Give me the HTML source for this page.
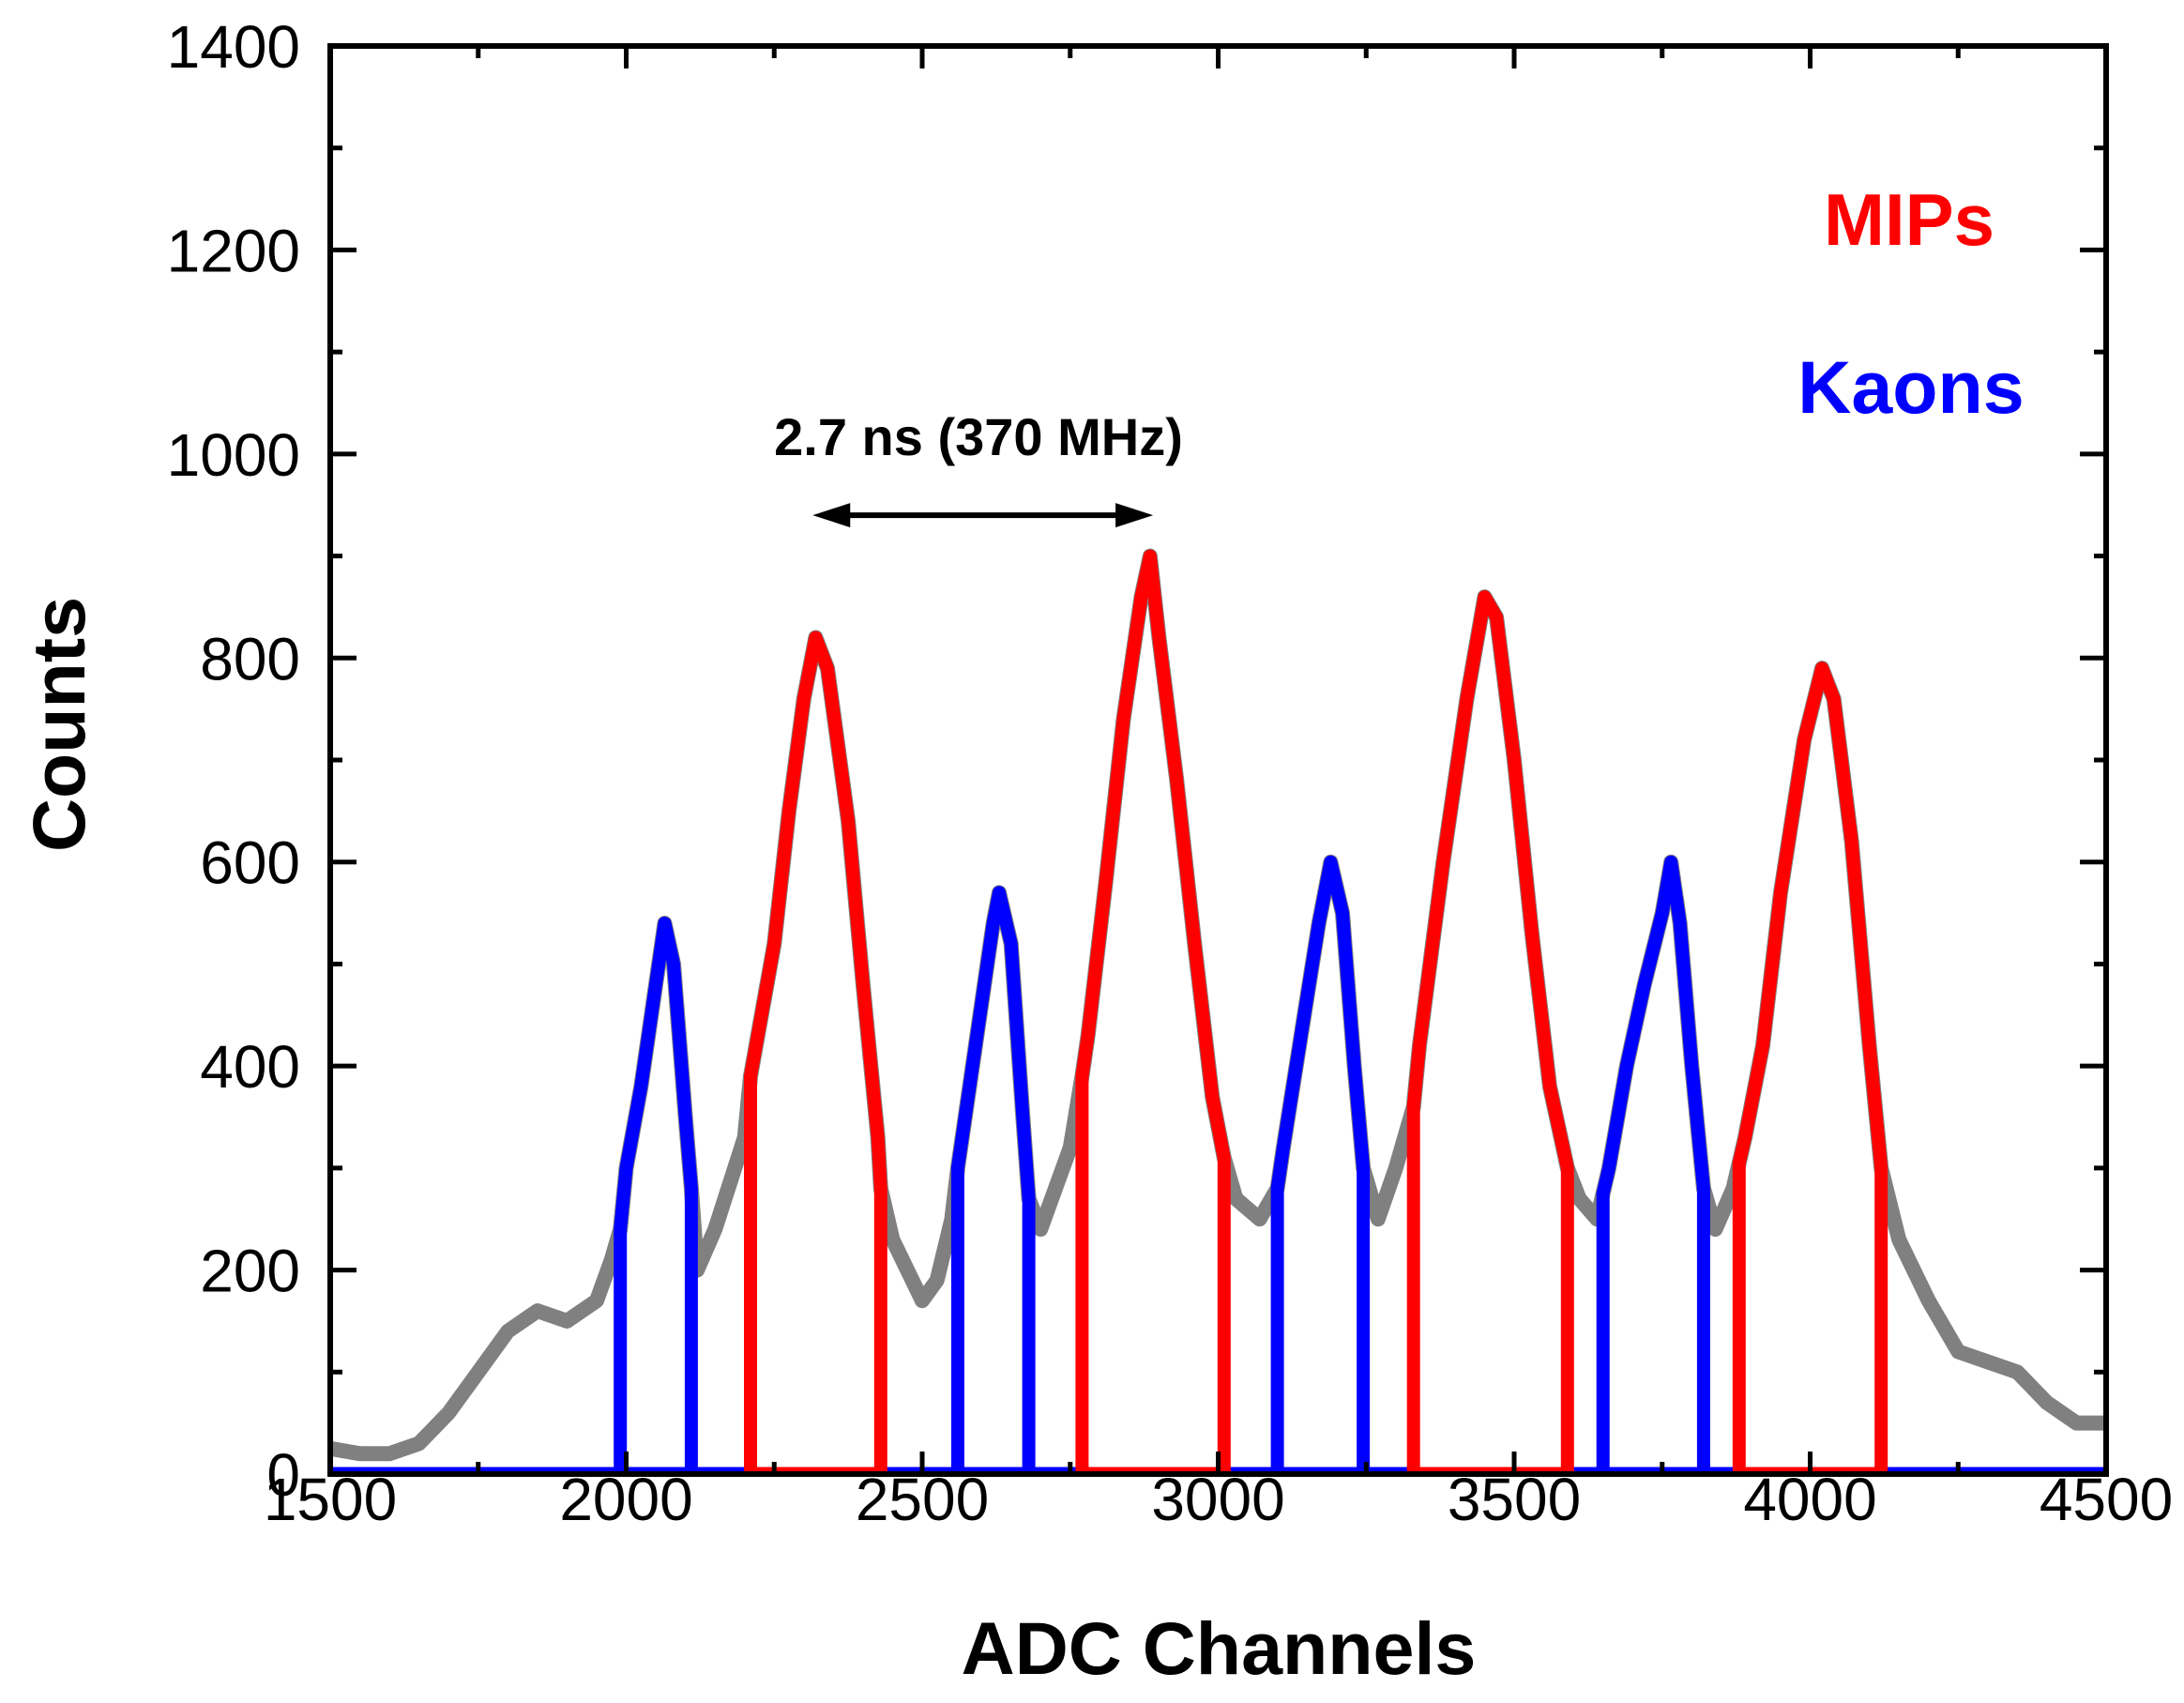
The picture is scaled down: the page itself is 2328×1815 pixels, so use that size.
<!DOCTYPE html>
<html><head><meta charset="utf-8">
<style>
html,body{margin:0;padding:0;background:#fff;}
svg{display:block;}
text{font-family:"Liberation Sans",Arial,sans-serif;}
</style></head>
<body>
<svg id="chart" width="2328" height="1815" viewBox="0 0 2328 1815" xmlns="http://www.w3.org/2000/svg">
<g id="plot"></g>
</svg>
<script>
// ---- data ----
const specX = [1500,1550,1600,1650,1700,1750,1800,1850,1900,1950,1975,1990,2000,2025,2050,2065,2080,2100,2110,2120,2150,2200,2210,2250,2275,2300,2320,2340,2375,2400,2425,2430,2450,2500,2525,2550,2560,2590,2620,2630,2650,2670,2680,2700,2750,2770,2780,2810,2840,2870,2885,2900,2930,2960,2990,3010,3030,3070,3100,3110,3140,3170,3190,3210,3230,3245,3270,3300,3330,3340,3380,3420,3450,3470,3500,3530,3560,3590,3610,3640,3660,3690,3720,3750,3765,3780,3800,3820,3840,3870,3890,3920,3950,3990,4020,4040,4070,4100,4120,4150,4200,4250,4300,4350,4400,4450,4500];
const specY = [25,20,20,30,60,100,140,160,150,170,210,240,300,380,480,540,500,350,280,200,240,330,390,520,650,760,820,790,640,480,330,280,230,170,190,250,300,420,540,570,520,350,270,240,320,390,430,580,740,860,900,820,680,520,370,310,270,250,280,320,430,540,600,550,400,300,250,300,360,420,600,760,860,840,700,530,380,300,270,250,300,400,480,550,600,540,400,280,240,280,330,420,570,720,790,760,620,420,300,230,170,120,110,100,70,50,50];
const kaonStart = [1990,2560,3100,3650];
const kaonEnd   = [2110,2680,3245,3820];
const mipStart  = [2210,2770,3330,3880];
const mipEnd    = [2430,3010,3590,4120];
const xTicks = [1500,2000,2500,3000,3500,4000,4500];
const yTicks = [0,200,400,600,800,1000,1200,1400];

// ---- axes ----
const L=352,R=2245,T=49,B=1571;
const xs=v=>L+(v-1500)/3000*(R-L);
const ys=v=>B-v/1400*(B-T);
const NS="http://www.w3.org/2000/svg";
const g=document.getElementById('plot');
function mk(tag,attrs){const e=document.createElementNS(NS,tag);for(const k in attrs)e.setAttribute(k,attrs[k]);g.appendChild(e);return e;}

function interp(x){for(let i=0;i<specX.length-1;i++){if(x>=specX[i]&&x<=specX[i+1]){const t=(x-specX[i])/(specX[i+1]-specX[i]);return specY[i]+t*(specY[i+1]-specY[i]);}}return 0;}

// gray full spectrum
let d='';specX.forEach((x,i)=>{d+=(i?'L':'M')+xs(x).toFixed(1)+' '+ys(specY[i]).toFixed(1);});
const gray=mk('path',{d:d,fill:'none',stroke:'#808080','stroke-width':16,'stroke-linejoin':'round'});



function region(s,e,color,name){
  let p='M'+xs(s).toFixed(1)+' '+ys(0)+' L'+xs(s).toFixed(1)+' '+ys(interp(s)).toFixed(1);
  specX.forEach((x,i)=>{if(x>s&&x<e)p+=' L'+xs(x).toFixed(1)+' '+ys(specY[i]).toFixed(1);});
  p+=' L'+xs(e).toFixed(1)+' '+ys(interp(e)).toFixed(1)+' L'+xs(e).toFixed(1)+' '+ys(0);
  const el=mk('path',{d:p,fill:'none',stroke:color,'stroke-width':14,'stroke-linejoin':'round'});
  
  
  const base=mk('line',{x1:xs(s),x2:xs(e),y1:ys(0)-4,y2:ys(0)-4,stroke:color,'stroke-width':7});
  
  
}
const blueBase=mk('line',{x1:L,x2:R,y1:B-4,y2:B-4,stroke:'#0000ff','stroke-width':7});


kaonStart.forEach((s,i)=>region(s,kaonEnd[i],'#0000ff','kaon-peak-'+(i+1)));
mipStart.forEach((s,i)=>region(s,mipEnd[i],'#ff0000','mip-peak-'+(i+1)));

// frame
const frame=mk('rect',{x:L,y:T,width:R-L,height:B-T,fill:'none',stroke:'#000','stroke-width':6});



// ticks
for(let v=1500;v<=4500;v+=250){const major=(v%500===0);const len=major?24:13;
  const t1=mk('line',{x1:xs(v),x2:xs(v),y1:B,y2:B-len,stroke:'#000','stroke-width':5});
  
  const t2=mk('line',{x1:xs(v),x2:xs(v),y1:T,y2:T+len,stroke:'#000','stroke-width':5});
  }
for(let v=0;v<=1400;v+=100){const major=(v%200===0);const len=major?28:13;
  const t1=mk('line',{x1:L,x2:L+len,y1:ys(v),y2:ys(v),stroke:'#000','stroke-width':5});
  
  const t2=mk('line',{x1:R,x2:R-len,y1:ys(v),y2:ys(v),stroke:'#000','stroke-width':5});
  }

xTicks.forEach(v=>{const t=mk('text',{x:xs(v),y:1620,'font-size':64,'text-anchor':'middle'});t.textContent=v;
  });
yTicks.forEach(v=>{const t=mk('text',{x:320,y:ys(v)+23,'font-size':64,'text-anchor':'end'});t.textContent=v;
  });

// titles
let t=mk('text',{x:1299,y:1784,'font-size':79,'font-weight':'bold','text-anchor':'middle'});t.textContent='ADC Channels';

t=mk('text',{x:0,y:0,'font-size':79,'font-weight':'bold','text-anchor':'middle',transform:'translate(90,772) rotate(-90)'});t.textContent='Counts';

t=mk('text',{x:2035,y:261,'font-size':78,'font-weight':'bold','text-anchor':'middle',fill:'#ff0000'});t.textContent='MIPs';

t=mk('text',{x:2037,y:440,'font-size':79,'font-weight':'bold','text-anchor':'middle',fill:'#0000ff'});t.textContent='Kaons';

t=mk('text',{x:1043,y:485,'font-size':56,'font-weight':'bold','text-anchor':'middle'});t.textContent='2.7 ns (370 MHz)';


// arrow
const ay=ys(940),ax1=xs(2315),ax2=xs(2890);
let a=mk('line',{x1:ax1+30,x2:ax2-30,y1:ay,y2:ay,stroke:'#000','stroke-width':6});

a=mk('polygon',{points:`${ax1},${ay} ${ax1+40},${ay-13} ${ax1+40},${ay+13}`,fill:'#000'});

a=mk('polygon',{points:`${ax2},${ay} ${ax2-40},${ay-13} ${ax2-40},${ay+13}`,fill:'#000'});

</script>
</body></html>
